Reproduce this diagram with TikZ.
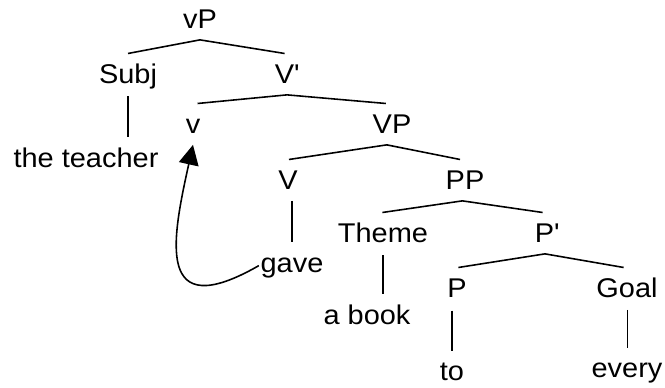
\documentclass[tikz,border=0pt]{standalone}
\usepackage{fontspec}
\setmainfont{Liberation Sans}[FakeStretch=1.07]
\usetikzlibrary{arrows.meta}

\begin{document}
\begin{tikzpicture}[scale=0.2]
\tikzstyle{every node}+=[inner xsep=0pt, inner ysep=5.7pt, text height=10.9pt, text depth=0.85pt, anchor=base, font=\fontsize{15.4}{18}\selectfont]
\tikzstyle{branch}=[black, line width=0.9pt]
\useasboundingbox (0,0) rectangle (66.5,-38.7);
\node (vP) at (20.0,-2.8) {vP};
\node (Subj) at (12.8,-8.3) {Subj};
\node (Vbar) at (28.7,-8.3) {V\textquotesingle};
\node (teacher) at (8.6,-16.7) {the teacher};
\node (v) at (19.3,-13.3) {v};
\node (VP) at (39.2,-13.3) {VP};
\node (V) at (28.8,-18.9) {V};
\node (PP) at (46.5,-18.9) {PP};
\node (gave) at (29.2,-27.2) {gave};
\node (Theme) at (38.3,-24.2) {Theme};
\node (Pbar) at (54.7,-24.2) {P\textquotesingle};
\node (book) at (36.7,-32.4) {a book};
\node (P) at (45.7,-29.7) {P};
\node (Goal) at (62.7,-29.7) {Goal};
\node (to) at (45.2,-38.0) {to};
\node (every) at (62.7,-37.7) {every};
\draw [branch] (Subj.north) -- (vP.south) -- ([xshift=-6.8pt]Vbar.north);
\draw [branch] ([xshift=13pt]v.north) -- (Vbar.south) -- ([xshift=-17.6pt]VP.north);
\draw [branch] ([xshift=2.8pt]V.north) -- ([xshift=-14.7pt]VP.south) -- ([xshift=-14.2pt]PP.north);
\draw [branch] ([xshift=-1.7pt]Theme.north) -- ([xshift=-7.4pt]PP.south) -- ([xshift=-12.5pt]Pbar.north);
\draw [branch] ([xshift=4pt]P.north) -- ([xshift=-5.7pt]Pbar.south) -- ([xshift=-9.6pt]Goal.north);
\draw [branch] ([yshift=-3.4pt]Subj.south) -- (Subj.south |- teacher.north);
\draw [branch] (gave.north |- V.south) -- (gave.north);
\draw [branch] ([yshift=-3.4pt]Theme.south) -- (Theme.south |- book.north);
\draw [branch] ([yshift=-5pt]to.north |- P.south) -- ([yshift=-2.8pt]to.north);
\draw [branch] ([yshift=-3pt,xshift=1.7pt]Goal.south) -- ([xshift=1.7pt,yshift=-2.8pt]Goal.south |- every.north);
\draw [branch, -{Triangle[length=11.3pt,width=11.3pt]}] ([xshift=-4pt,yshift=-7pt]gave.west) .. controls (15.5,-32.5) and (17.2,-24.0) .. (v.south);
\end{tikzpicture}
\end{document}
